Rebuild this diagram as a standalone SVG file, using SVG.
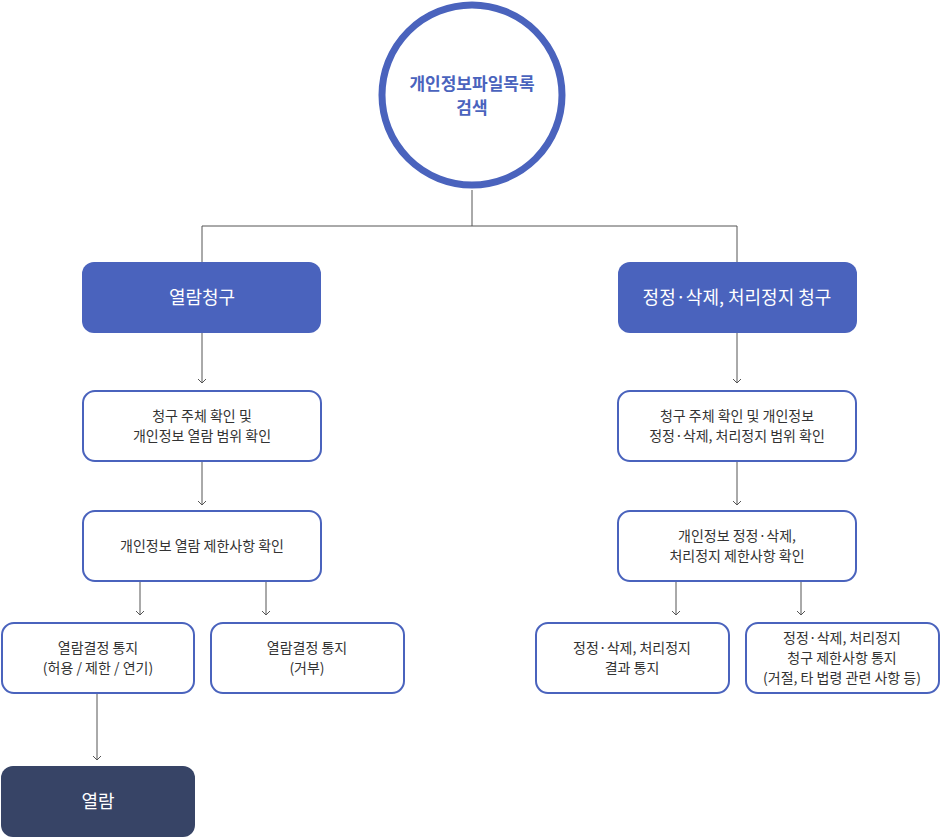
<svg xmlns="http://www.w3.org/2000/svg" width="940" height="838" viewBox="0 0 940 838">
<style>
.b{fill:#fff;stroke:#4a63bd;stroke-width:2}
.f{fill:#4a63bd}
.t{font-family:"Noto Sans CJK KR","Noto Sans",sans-serif;font-size:14px;fill:#333;text-anchor:middle}
.w{font-family:"Noto Sans CJK KR","Noto Sans",sans-serif;font-size:18px;fill:#fff;text-anchor:middle}
.c{fill:none;stroke:#555;stroke-width:1}
</style>
<defs><marker id="a" markerWidth="10" markerHeight="10" refX="5" refY="5" orient="auto" markerUnits="userSpaceOnUse"><path d="M1,1 L5,5 L1,9" fill="none" stroke="#555" stroke-width="1"/></marker></defs>
<g id="connectors">
<path class="c" d="M472,190 V226 H202 V262 M737,226 V262 M472,226 H737"/>
<path class="c" d="M202,333 V383" marker-end="url(#a)"/>
<path class="c" d="M202,461 V505" marker-end="url(#a)"/>
<path class="c" d="M140,581 V615" marker-end="url(#a)"/>
<path class="c" d="M266,581 V615" marker-end="url(#a)"/>
<path class="c" d="M97,693 V760" marker-end="url(#a)"/>
<path class="c" d="M737,333 V383" marker-end="url(#a)"/>
<path class="c" d="M737,461 V505" marker-end="url(#a)"/>
<path class="c" d="M676,581 V615" marker-end="url(#a)"/>
<path class="c" d="M801,581 V615" marker-end="url(#a)"/>
</g>
<g id="root"><circle cx="472" cy="95" r="90" fill="#fff" stroke="#4a63bd" stroke-width="7"/>
<text class="t" x="472" y="90" style="font-size:17px;fill:#4a63bd;font-weight:bold">개인정보파일목록</text>
<text class="t" x="472" y="114" style="font-size:17px;fill:#4a63bd;font-weight:bold">검색</text></g>
<g id="n1"><rect class="f" x="82" y="262" width="239" height="71" rx="12"/><text class="w" x="202" y="304">열람청구</text></g>
<g id="n2"><rect class="f" x="618" y="262" width="239" height="71" rx="12"/><text class="w" x="737" y="304">정정·삭제, 처리정지 청구</text></g>
<g id="n3"><rect class="b" x="83" y="391" width="238" height="70" rx="12"/><text class="t" x="202" y="421">청구 주체 확인 및</text><text class="t" x="202" y="441">개인정보 열람 범위 확인</text></g>
<g id="n4"><rect class="b" x="83" y="511" width="238" height="70" rx="12"/><text class="t" x="202" y="551">개인정보 열람 제한사항 확인</text></g>
<g id="n5"><rect class="b" x="2" y="623" width="192" height="70" rx="12"/><text class="t" x="98" y="653">열람결정 통지</text><text class="t" x="98" y="673">(허용 / 제한 / 연기)</text></g>
<g id="n6"><rect class="b" x="211" y="623" width="193" height="70" rx="12"/><text class="t" x="307" y="653">열람결정 통지</text><text class="t" x="307" y="673">(거부)</text></g>
<g id="n7"><rect x="1" y="766" width="194" height="71" rx="12" fill="#374466"/><text class="w" x="98" y="808">열람</text></g>
<g id="n8"><rect class="b" x="618" y="391" width="238" height="70" rx="12"/><text class="t" x="737" y="421">청구 주체 확인 및 개인정보</text><text class="t" x="737" y="441">정정·삭제, 처리정지 범위 확인</text></g>
<g id="n9"><rect class="b" x="618" y="511" width="238" height="70" rx="12"/><text class="t" x="737" y="541">개인정보 정정·삭제,</text><text class="t" x="737" y="561">처리정지 제한사항 확인</text></g>
<g id="n10"><rect class="b" x="536" y="623" width="193" height="70" rx="12"/><text class="t" x="632" y="653">정정·삭제, 처리정지</text><text class="t" x="632" y="673">결과 통지</text></g>
<g id="n11"><rect class="b" x="746" y="623" width="193" height="70" rx="12"/><text class="t" x="842" y="643">정정·삭제, 처리정지</text><text class="t" x="842" y="663">청구 제한사항 통지</text><text class="t" x="842" y="683">(거절, 타 법령 관련 사항 등)</text></g>
</svg>
